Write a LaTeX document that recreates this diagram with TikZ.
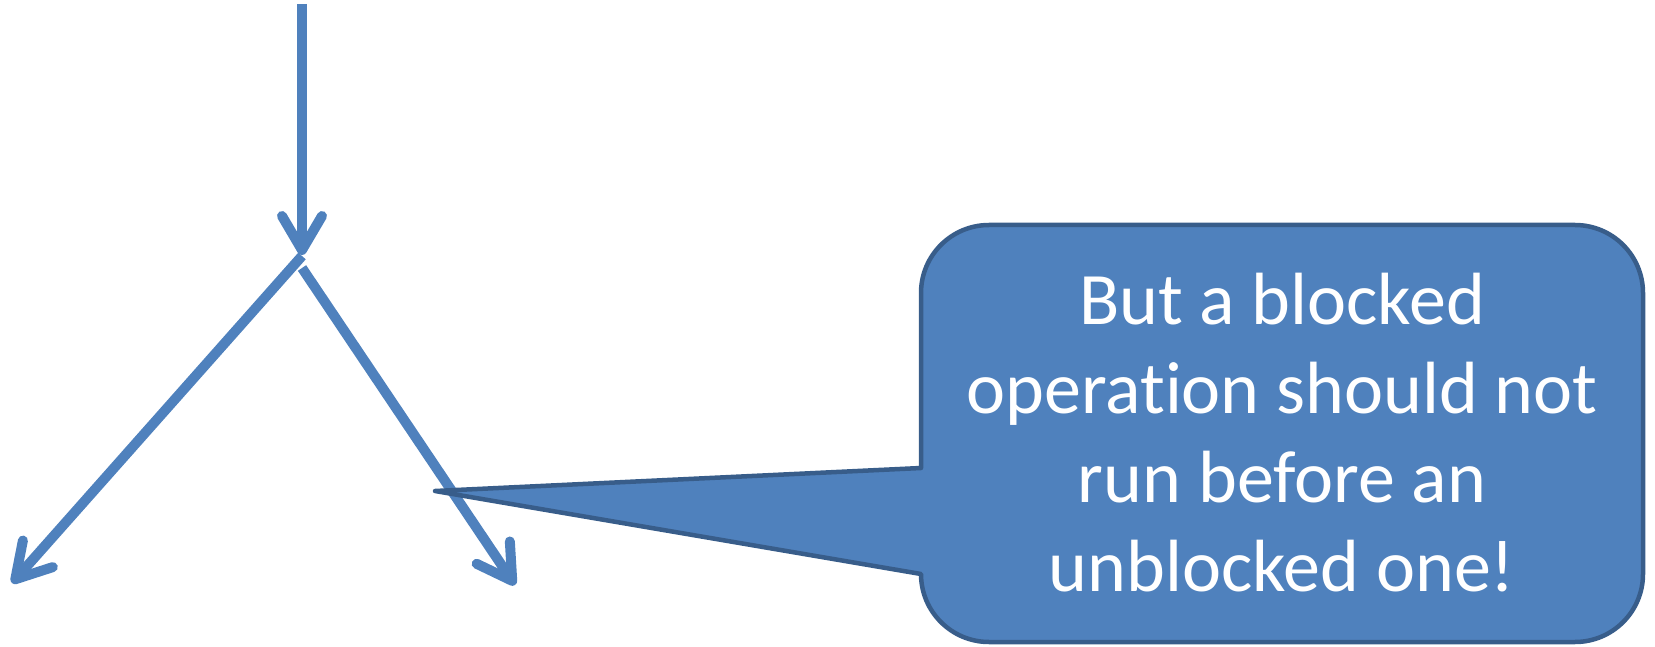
\documentclass[tikz,border=0pt]{standalone}
\usepackage{fontspec}
\setmainfont{Carlito}[Ligatures=NoCommon]
\usetikzlibrary{arrows.meta}
\definecolor{flow}{HTML}{4F81BD}
\definecolor{calloutfill}{HTML}{4F81BD}
\definecolor{calloutline}{HTML}{385D8A}
\tikzset{
  flowline/.style={draw=flow, line width=10pt,
    -{Straight Barb[length=34pt, width=40pt, round]}},
  callout/.style={fill=calloutfill, draw=calloutline, line width=4.5pt, line join=round},
  callouttext/.style={text=white, align=center, font=\fontsize{74}{89}\selectfont}
}
\begin{document}
\begin{tikzpicture}[x=1pt, y=1pt]
  \useasboundingbox (0,0) rectangle (1655,-647);

  % flow arrows
  \coordinate (src) at (302,-4);
  \coordinate (fork) at (302,-255);
  \coordinate (leftstart) at (302,-256);
  \coordinate (leftend) at (12,-583);
  \coordinate (rightstart) at (302,-268);
  \coordinate (rightend) at (515,-585);

  \draw[flowline] (src) -- (fork);
  \draw[flowline] (leftstart) -- (leftend);
  \draw[flowline] (rightstart) -- (rightend);

  % speech callout pointing at the right branch
  \coordinate (ptr) at (435,-491);
  \coordinate (wedgetop) at (921,-468);
  \coordinate (wedgebot) at (921,-574);
  \draw[callout] (ptr) -- (wedgetop) -- (921,-293)
    arc[start angle=180, end angle=90, radius=68] -- (1575,-225)
    arc[start angle=90, end angle=0, radius=68] -- (1643,-574)
    arc[start angle=0, end angle=-90, radius=68] -- (989,-642)
    arc[start angle=270, end angle=180, radius=68] -- (wedgebot) -- cycle;

  \node[callouttext] (msg) at (1282,-433) {But a blocked\\operation should not\\run before an\\unblocked one!};
\end{tikzpicture}
\end{document}
